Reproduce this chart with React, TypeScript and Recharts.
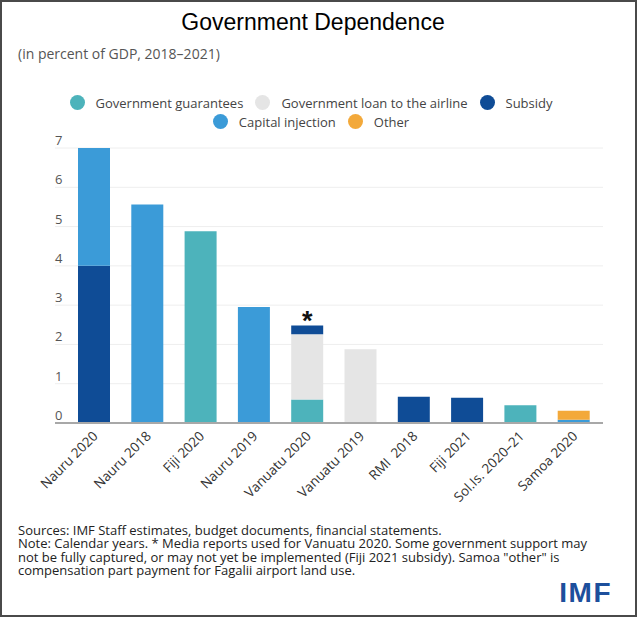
import React from 'react'
import { BarChart, Bar, XAxis, YAxis, CartesianGrid, LabelList } from 'recharts'

const categories = [
  'Nauru 2020',
  'Nauru 2018',
  'Fiji 2020',
  'Nauru 2019',
  'Vanuatu 2020',
  'Vanuatu 2019',
  'RMI  2018',
  'Fiji 2021',
  'Sol.Is. 2020–21',
  'Samoa 2020',
]
const guarantees = [0, 0, 4.88, 0, 0.6, 0, 0, 0, 0.45, 0]
const airlineLoan = [0, 0, 0, 0, 1.66, 1.88, 0, 0, 0, 0]
const subsidy = [4.0, 0, 0, 0, 0.22, 0, 0.67, 0.64, 0, 0]
const capitalInjection = [3.0, 5.56, 0, 2.95, 0, 0, 0, 0, 0, 0.08]
const other = [0, 0, 0, 0, 0, 0, 0, 0, 0, 0.23]
const marks = ['', '', '', '', '*', '', '', '', '', '']
const yTicks = [0, 1, 2, 3, 4, 5, 6, 7]

const series = [
  { key: 'guarantees', name: 'Government guarantees', color: '#4db3bb' },
  { key: 'loan', name: 'Government loan to the airline', color: '#e5e5e5' },
  { key: 'subsidy', name: 'Subsidy', color: '#0f4c96' },
  { key: 'capital', name: 'Capital injection', color: '#3b9bd8' },
  { key: 'other', name: 'Other', color: '#f3a93a' },
]
const legendRows = [
  ['guarantees', 'loan', 'subsidy'],
  ['capital', 'other'],
]

const data = categories.map((name, i) => ({
  name,
  guarantees: guarantees[i],
  loan: airlineLoan[i],
  subsidy: subsidy[i],
  capital: capitalInjection[i],
  other: other[i],
  mark: marks[i],
}))

const FONT = '"Open Sans", "Noto Sans", sans-serif'

const XTick = ({ x, y, payload }: any) => (
  <g transform={`translate(${x + 5},${y + 12})`}>
    <text
      transform="rotate(-45)"
      textAnchor="end"
      fontSize={13.5}
      fill="#333"
      fontFamily={FONT}
      style={{ whiteSpace: 'pre' }}
    >
      {payload.value}
    </text>
  </g>
)

// y labels sit just above their gridline, inside the plot
const YTick = ({ x, y, payload }: any) => (
  <text x={x} y={y - 3} textAnchor="start" fontSize={13} fill="#555" fontFamily={FONT}>
    {payload.value}
  </text>
)

const Star = ({ x, y, width, value }: any) =>
  value ? (
    <text
      x={x + width / 2}
      y={y + 4}
      textAnchor="middle"
      fontSize={27}
      fontWeight="bold"
      fill="#111"
      fontFamily="'Liberation Sans', Arial, sans-serif"
    >
      {value}
    </text>
  ) : null

export default function App() {
  return (
    <div
      style={{
        position: 'absolute',
        left: 0,
        top: 0,
        width: 637,
        height: 617,
        background: '#fff',
        overflow: 'hidden',
        fontFamily: FONT,
      }}
    >
      <div
        style={{
          position: 'absolute',
          top: 9,
          left: 0,
          width: 626,
          textAlign: 'center',
          fontFamily: "'Liberation Sans', Arial, sans-serif",
          fontSize: 23,
          color: '#000',
        }}
      >
        Government Dependence
      </div>
      <div style={{ position: 'absolute', top: 44, left: 18, fontSize: 14, color: '#555' }}>
        (in percent of GDP, 2018–2021)
      </div>

      {/* legend */}
      <div style={{ position: 'absolute', top: 93, left: 0, width: 622 }}>
        {legendRows.map((row, r) => (
          <div
            key={r}
            style={{ display: 'flex', justifyContent: 'center', alignItems: 'center', height: 19 }}
          >
            {row.map((k) => {
              const s = series.find((d) => d.key === k)!
              return (
                <div key={k} style={{ display: 'flex', alignItems: 'center', margin: '0 6px' }}>
                  <span
                    style={{
                      width: 15,
                      height: 15,
                      borderRadius: '50%',
                      background: s.color,
                      marginRight: 11,
                      display: 'inline-block',
                    }}
                  />
                  <span style={{ fontSize: 13, color: '#444' }}>{s.name}</span>
                </div>
              )
            })}
          </div>
        ))}
      </div>

      <div style={{ position: 'absolute', left: 0, top: 0 }}>
        <BarChart
          width={637}
          height={510}
          data={data}
          margin={{ top: 148, right: 34, left: 0, bottom: 7 }}
          barSize={32}
        >
          <CartesianGrid vertical={false} stroke="#eeeeee" />
          <XAxis
            dataKey="name"
            interval={0}
            height={80}
            padding={{ left: 12, right: 3 }}
            tick={<XTick />}
            tickLine={false}
            tickSize={0}
            axisLine={{ stroke: '#a8a8a8', strokeWidth: 2 }}
          />
          <YAxis
            width={55}
            domain={[0, 7]}
            ticks={yTicks}
            interval={0}
            axisLine={false}
            tickLine={false}
            tickSize={0}
            tickMargin={0}
            tick={<YTick />}
          />
          {series.map((s) => (
            <Bar key={s.key} dataKey={s.key} stackId="a" fill={s.color} isAnimationActive={false}>
              {s.key === 'subsidy' && <LabelList dataKey="mark" content={<Star />} />}
            </Bar>
          ))}
        </BarChart>
      </div>

      <div
        style={{
          position: 'absolute',
          left: 18,
          top: 524,
          fontSize: 13,
          lineHeight: '13.4px',
          color: '#222',
          whiteSpace: 'pre',
        }}
      >
        {'Sources: IMF Staff estimates, budget documents, financial statements.\n' +
          'Note: Calendar years. * Media reports used for Vanuatu 2020. Some government support may\n' +
          'not be fully captured, or may not yet be implemented (Fiji 2021 subsidy). Samoa "other" is\n' +
          'compensation part payment for Fagalii airport land use.'}
      </div>
      <div
        style={{
          position: 'absolute',
          right: 25,
          top: 576,
          fontFamily: "'Liberation Sans', Arial, sans-serif",
          fontWeight: 'bold',
          fontSize: 28,
          letterSpacing: 1.5,
          color: '#1d4f9c',
          lineHeight: '34px',
        }}
      >
        IMF
      </div>
      <div
        style={{
          position: 'absolute',
          inset: 0,
          border: '2px solid #4a4a4a',
          pointerEvents: 'none',
        }}
      />
    </div>
  )
}
